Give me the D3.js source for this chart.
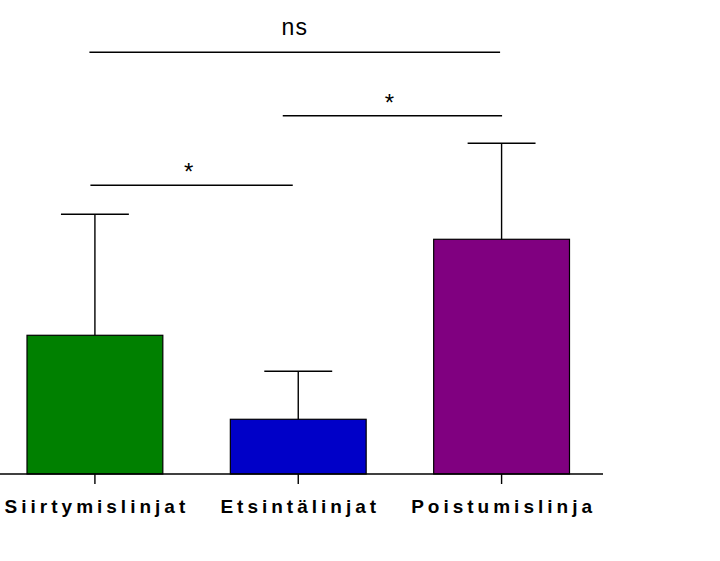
<!DOCTYPE html>
<html>
<head>
<meta charset="utf-8">
<script src="https://cdn.jsdelivr.net/npm/d3@7/dist/d3.min.js"></script>
<style>
  html, body { margin: 0; padding: 0; background: #fff; }
  svg { display: block; }
</style>
</head>
<body>
<svg id="chart" width="720" height="561"></svg>
<script>
// ---- data ----
const categories = ["Siirtymislinjat", "Etsintälinjat", "Poistumislinja"];
const means = [0.578, 0.228, 0.978];
const errors = [0.504, 0.200, 0.400];
const barColors = ["#008000", "#0000C8", "#800080"];
const compFrom = [0, 1, 0];
const compTo = [1, 2, 2];
const compLevel = [1.203, 1.493, 1.757];
const compLabel = ["*", "*", "ns"];

// ---- layout ----
const svg = d3.select("#chart");
const baseY = 474;
const y = d3.scaleLinear().domain([0, 1]).range([baseY, baseY - 240]);
const x = d3.scaleBand().domain(categories).range([27, 569.5])
  .paddingInner(0.332).paddingOuter(0);
const bw = x.bandwidth();
const cx = i => x(categories[i]) + bw / 2;

// bars
svg.append("g").selectAll("rect").data(categories).join("rect")
  .attr("x", d => x(d))
  .attr("y", (d, i) => y(means[i]))
  .attr("width", bw)
  .attr("height", (d, i) => y(0) - y(means[i]))
  .attr("fill", (d, i) => barColors[i])
  .attr("stroke", "#000")
  .attr("stroke-width", 1.2);

// error bars
const eg = svg.append("g").attr("stroke", "#000").attr("stroke-width", 1.4);
categories.forEach((c, i) => {
  eg.append("line").attr("x1", cx(i)).attr("x2", cx(i))
    .attr("y1", y(means[i])).attr("y2", y(means[i] + errors[i]));
  eg.append("line").attr("x1", cx(i) - bw / 4).attr("x2", cx(i) + bw / 4)
    .attr("y1", y(means[i] + errors[i])).attr("y2", y(means[i] + errors[i]));
});

// x axis
const axis = d3.axisBottom(x).tickSize(10).tickFormat("");
const ag = svg.append("g").attr("transform", `translate(0,${baseY})`).call(axis);
ag.select(".domain").remove();
ag.selectAll("line").attr("stroke", "#000").attr("stroke-width", 1.4);
svg.append("line").attr("x1", 0).attr("x2", 603).attr("y1", baseY).attr("y2", baseY)
  .attr("stroke", "#000").attr("stroke-width", 1.4);

// category labels
const ls = 4;
svg.append("g").selectAll("text").data(categories).join("text")
  .attr("x", (d, i) => cx(i) + ls / 2)
  .attr("y", 513)
  .attr("text-anchor", "middle")
  .attr("font-family", "Liberation Sans, Arial, sans-serif")
  .attr("font-weight", "bold")
  .attr("font-size", 19)
  .attr("letter-spacing", ls)
  .text(d => d);

// significance comparisons
const dxFrom = [-4.5, -15.5, -5.5];
const dxTo = [-5.5, 0.5, -1.5];
const sg = svg.append("g");
compLabel.forEach((lab, k) => {
  const x1 = cx(compFrom[k]) + dxFrom[k];
  const x2 = cx(compTo[k]) + dxTo[k];
  const yy = y(compLevel[k]);
  sg.append("line").attr("x1", x1).attr("x2", x2).attr("y1", yy).attr("y2", yy)
    .attr("stroke", "#000").attr("stroke-width", 1.4);
  const isStar = lab === "*";
  sg.append("text")
    .attr("x", (x1 + x2) / 2 - (isStar ? 3 : 0))
    .attr("y", yy - (isStar ? 5 : 17))
    .attr("text-anchor", "middle")
    .attr("font-family", "Liberation Sans, Arial, sans-serif")
    .attr("font-size", isStar ? 24 : 23)
    .attr("letter-spacing", isStar ? 0 : 1)
    .text(lab);
});
</script>
</body>
</html>
